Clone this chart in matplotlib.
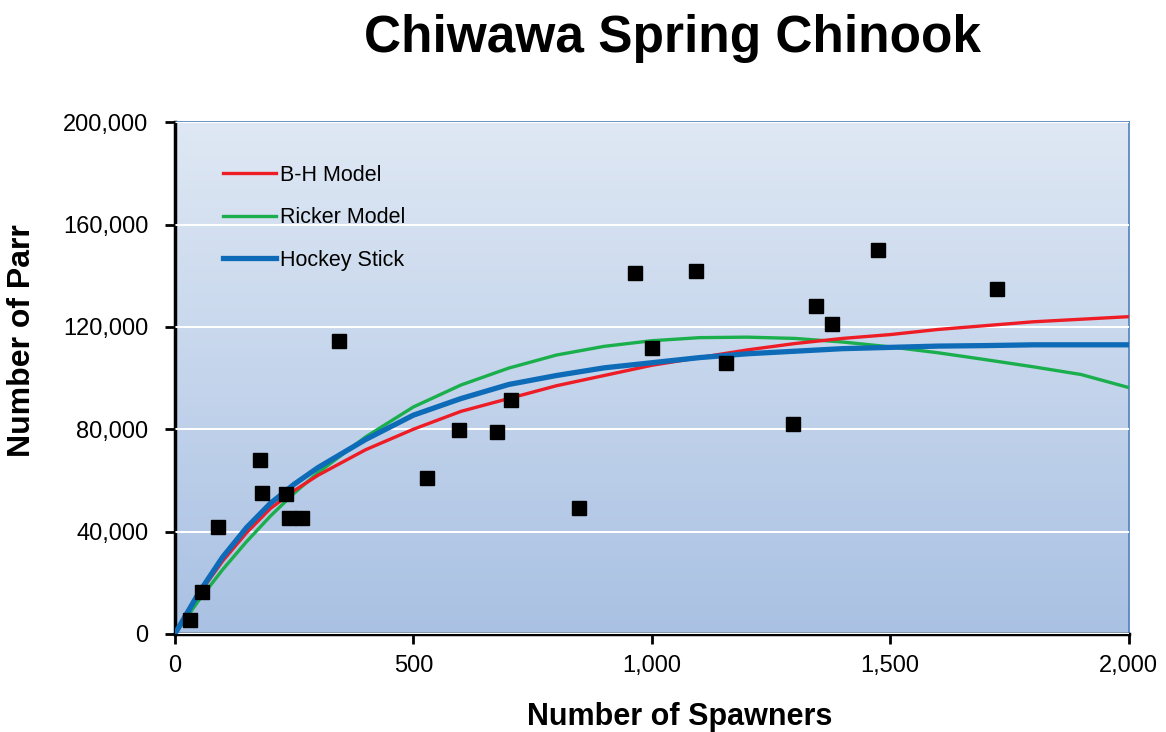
import matplotlib
matplotlib.use('Agg')
import matplotlib.pyplot as plt
import numpy as np

plt.rcParams['font.family'] = ['Liberation Sans', 'DejaVu Sans']

# observed spawners / parr
spawners = [31, 57, 90, 178, 182, 233, 239, 266, 344, 528, 595, 675, 704, 847,
            964, 1000, 1092, 1155, 1296, 1344, 1377, 1474, 1723]
parr = [5500, 16400, 41800, 68000, 55000, 54700, 45300, 45300, 114500, 61000,
        79700, 79000, 91400, 49200, 141000, 111700, 141800, 106000, 82000,
        128000, 121000, 150000, 135000]

# model curves
curve_x = [0, 50, 100, 150, 200, 250, 300, 400, 500, 600, 700, 800, 900, 1000,
           1100, 1200, 1300, 1400, 1500, 1600, 1700, 1800, 1900, 2000]
bh_y = [0, 15500, 28500, 39500, 49000, 56000, 62000, 72000, 80000, 87000,
        92000, 97000, 101000, 105000, 108000, 111000, 113500, 115500, 117000,
        119000, 120500, 122000, 123000, 124000]
ricker_y = [0, 13100, 25100, 36000, 46000, 55000, 63000, 77000, 88700, 97300,
            103900, 109000, 112400, 114600, 115800, 116000, 115500, 114100,
            112200, 109900, 107200, 104400, 101400, 96300]
hockey_y = [0, 16000, 30000, 41500, 51000, 58500, 65000, 76000, 85500, 92000,
            97500, 101000, 104000, 106000, 108000, 109500, 110500, 111500,
            112000, 112500, 112700, 113000, 113000, 113000]

fig = plt.figure(figsize=(11.66, 7.32), dpi=100)
ax = fig.add_axes([0.150, 0.134, 0.818, 0.699])

# gradient background
grad = np.linspace(0, 1, 256).reshape(-1, 1)
cmap = matplotlib.colors.LinearSegmentedColormap.from_list('bg', ['#a9c1e3', '#dfe8f4'])
ax.imshow(grad, cmap=cmap, aspect='auto', origin='lower',
          extent=[0, 2000, 0, 200000], zorder=0)

ax.set_xlim(0, 2000)
ax.set_ylim(0, 200000)
ax.set_yticks(range(0, 200001, 40000))
ax.set_xticks(range(0, 2001, 500))
ax.yaxis.grid(True, color='white', linewidth=1.5, zorder=1)
ax.set_axisbelow(False)

ax.plot(curve_x, ricker_y, color='#1aaf4c', linewidth=2.4, label='Ricker Model', zorder=3)
ax.plot(curve_x, bh_y, color='#ee1c25', linewidth=2.4, label='B-H Model', zorder=3)
ax.plot(curve_x, hockey_y, color='#0e6bb8', linewidth=3.8, label='Hockey Stick', zorder=4)
ax.plot(spawners, parr, linestyle='none', marker='s', markersize=10,
        color='black', zorder=5)

handles, labels = ax.get_legend_handles_labels()
order = [1, 0, 2]
leg = ax.legend([handles[i] for i in order], [labels[i] for i in order],
                loc='upper left', bbox_to_anchor=(0.030, 0.955), frameon=False,
                fontsize=15.5, handlelength=2.45, handletextpad=0.2,
                labelspacing=1.0)

ax.tick_params(axis='both', direction='out', length=7, width=2, labelsize=17)
ax.tick_params(axis='y', pad=12)
ax.tick_params(axis='x', pad=8)
ax.xaxis.set_major_formatter(matplotlib.ticker.FuncFormatter(lambda v, p: f'{int(v):,}'))
ax.yaxis.set_major_formatter(matplotlib.ticker.FuncFormatter(lambda v, p: f'{int(v):,}'))

ax.spines['left'].set_linewidth(2.5)
ax.spines['bottom'].set_linewidth(2.5)
ax.spines['top'].set_color('#4f81bd')
ax.spines['right'].set_color('#4f81bd')
ax.spines['top'].set_linewidth(1.2)
ax.spines['right'].set_linewidth(1.2)

fig.text(0.577, 0.948, 'Chiwawa Spring Chinook', ha='center', va='center',
         fontsize=37, fontweight='bold')
fig.text(0.583, 0.021, 'Number of Spawners', ha='center', va='center',
         fontsize=22, fontweight='bold')
fig.text(0.019, 0.535, 'Number of Parr', ha='center', va='center',
         rotation=90, fontsize=23, fontweight='bold')

fig.savefig('out.png', dpi=100)
